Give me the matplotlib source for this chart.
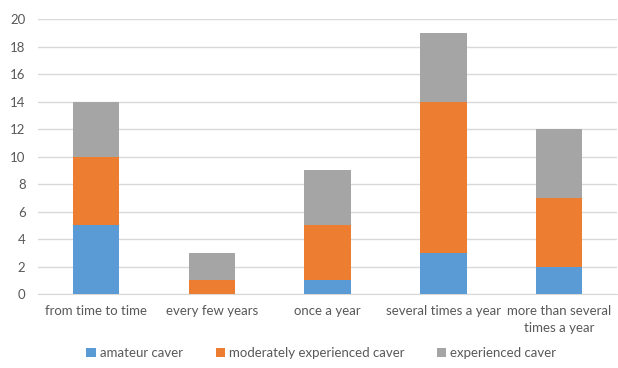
import matplotlib
matplotlib.use("Agg")
import matplotlib.pyplot as plt
import numpy as np

categories = ["from time to time", "every few years", "once a year",
              "several times a year", "more than several\ntimes a year"]
amateur = [5, 0, 1, 3, 2]
moderate = [5, 1, 4, 11, 5]
experienced = [4, 2, 4, 5, 5]
series_names = ["amateur caver", "moderately experienced caver", "experienced caver"]
colors = ["#5B9BD5", "#ED7D31", "#A5A5A5"]

plt.rcParams["font.family"] = ["Lato", "DejaVu Sans"]

fig = plt.figure(figsize=(6.18, 3.68), dpi=100)
ax = fig.add_axes([0.0615, 0.201, 0.937, 0.747])

x = np.arange(len(categories))
bottom = np.zeros(len(categories))
for vals, name, col in zip([amateur, moderate, experienced], series_names, colors):
    ax.bar(x, vals, width=0.4, bottom=bottom, color=col, label=name, zorder=3)
    bottom += np.array(vals)

ax.set_xlim(-0.5, len(categories) - 0.5)
ax.set_ylim(0, 20)
ax.set_yticks(range(0, 21, 2))
ax.set_xticks(x)
ax.set_xticklabels(categories, fontsize=9.5, color="#595959", linespacing=1.5)
ax.tick_params(axis="y", labelsize=9.5, labelcolor="#595959", length=0, pad=9)
ax.tick_params(axis="x", length=0, pad=8)
ax.grid(axis="y", color="#D9D9D9", linewidth=1, zorder=0)
for s in ["top", "right", "left"]:
    ax.spines[s].set_visible(False)
ax.spines["bottom"].set_color("#D9D9D9")

leg = fig.legend(loc="center", bbox_to_anchor=(0.52, 0.04), ncol=3, frameon=False,
                 fontsize=9.5, handlelength=0.7, handleheight=0.7, handletextpad=0.3,
                 columnspacing=2.5)
for t in leg.get_texts():
    t.set_color("#595959")

fig.savefig("out.png", dpi=100)
